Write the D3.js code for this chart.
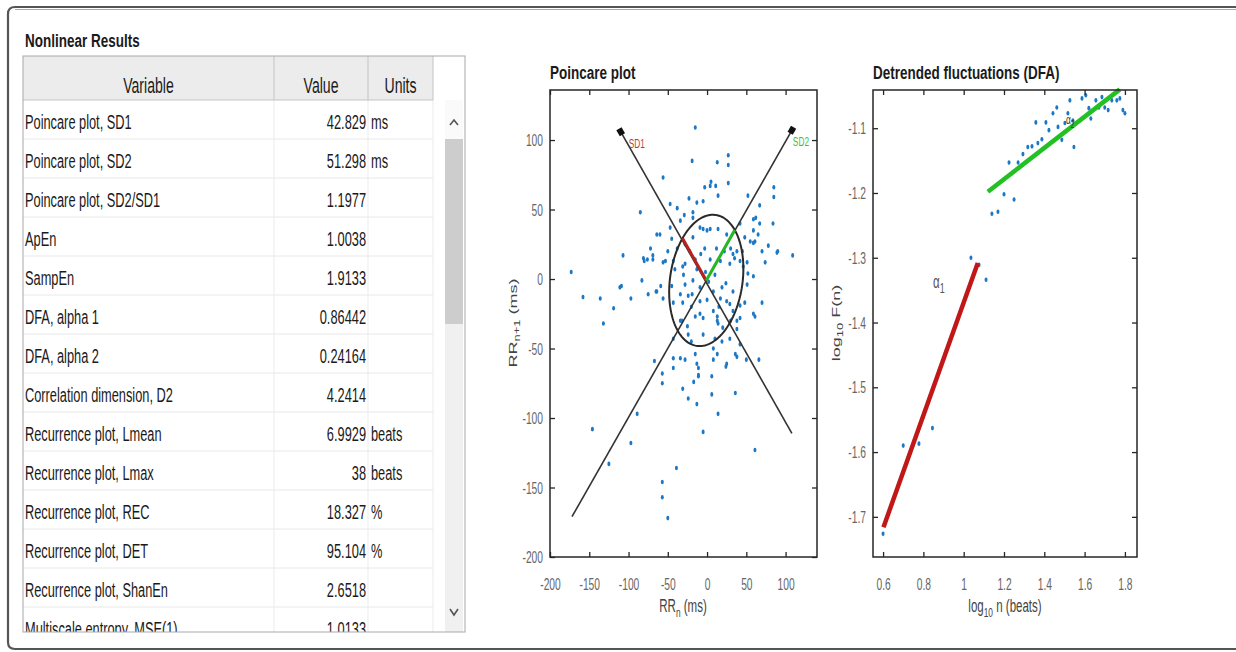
<!DOCTYPE html>
<html>
<head>
<meta charset="utf-8">
<script src="https://cdn.jsdelivr.net/npm/d3@7"></script>
<style>
html, body { margin: 0; padding: 0; background: #fff; overflow: hidden; }
svg { display: block; font-family: "Liberation Sans", Arial, sans-serif; }
</style>
</head>
<body>
<div id="root"></div>
<script>
const width = 1236;
const height = 652;

// table content
const variables = ['Poincare plot, SD1', 'Poincare plot, SD2', 'Poincare plot, SD2/SD1', 'ApEn', 'SampEn',
    'DFA, alpha 1', 'DFA, alpha 2', 'Correlation dimension, D2', 'Recurrence plot, Lmean',
    'Recurrence plot, Lmax', 'Recurrence plot, REC', 'Recurrence plot, DET', 'Recurrence plot, ShanEn',
    'Multiscale entropy, MSE(1)'];
const values = ['42.829', '51.298', '1.1977', '1.0038', '1.9133', '0.86442', '0.24164', '4.2414',
    '6.9929', '38', '18.327', '95.104', '2.6518', '1.0133'];
const units = ['ms', 'ms', '', '', '', '', '', '', 'beats', 'beats', '%', '%', '', ''];
const headers = ['Variable', 'Value', 'Units'];

// poincare plot (ms)
const SD1 = 42.829;
const SD2 = 51.298;
const poincareCenter = [-1, -1];
const poincareTicks = [-200, -150, -100, -50, 0, 50, 100];
const sd1Line = [[108, -111], [-110, 106]];
const sd2Line = [[-172, -171], [108, 107]];
const rrPoints = [
    [-15, 109], [-19, 85], [13, 84], [27, 89], [27, 82], [-56, 73], [-3, 66], [5, 70], [11, 67], [27, 69],
    [85, 66], [85, 59], [14, 60], [-23, 58], [-5, 56], [-13, 55], [52, 60], [-85, 48], [-47, 54], [-38, 51],
    [-29, 46], [-18, 48], [-18, 44], [62, 44], [67, 40], [84, 40], [59, 35], [-34, 42], [-60, 32], [-47, 37],
    [-9, 37], [0, 35], [48, 30], [59, 26], [65, 32], [90, 20], [109, 17], [-107, 17], [-81, 15], [-69, 17],
    [-173, 5], [-158, -13], [-136, -14], [-132, -32], [-119, -21], [-109, -5], [-97, -14], [-83, -1], [-80, 13],
    [-75, -11], [-65, -9], [-59, -5], [-56, -14], [-69, 14], [-53, 13], [-43, 13], [-31, 9], [-28, -4],
    [-31, -17], [-43, -17], [-19, -11], [-9, -16], [8, -9], [17, -14], [29, -18], [33, -23], [42, -19],
    [48, -17], [51, -4], [52, 4], [59, 2], [51, 12], [74, 12], [89, 19], [70, -17], [61, -27], [42, -28],
    [38, -30], [13, -27], [14, -32], [8, -23], [-9, -25], [-15, -27], [-5, -28], [-25, -34], [-32, -30],
    [-43, -43], [-43, -57], [-67, -59], [-57, -68], [-57, -75], [-28, -58], [-15, -54], [-13, -61], [-11, -64],
    [-11, -70], [-17, -74], [-31, -79], [-24, -86], [-13, -90], [6, -83], [14, -97], [36, -82], [-5, -110],
    [24, -63], [8, -58], [10, -43], [19, -45], [29, -43], [38, -56], [50, -58], [66, -58], [38, -36],
    [-89, -97], [-146, -108], [-97, -118], [61, -123], [-125, -133], [-39, -136], [-57, -146], [-57, -157],
    [-50, -172], [4, 67], [67, 53], [59, 43], [42, 40], [-64, 32], [-45, 29], [-18, 30], [-5, 36], [4, 36],
    [14, 36], [25, 32], [55, 27], [61, 27], [-76, 14], [-56, 12], [-41, 7], [-28, 11], [-13, 7], [4, 14],
    [17, 13], [29, 11], [42, 13], [46, 9], [-111, -6], [-64, -9], [-34, -11], [-24, -12], [-18, -1], [-9, -6],
    [19, -6], [33, -9], [25, -16], [59, -25], [13, -30], [-34, -30], [-24, -40], [8, -50], [13, -54],
    [25, -61], [36, -54], [42, -47], [-34, -57], [-43, -64], [-11, -69], [6, -70], [33, 18], [35, 15],
    [38, 20], [30, 22], [22, 20], [-3, 22], [-8, 18], [2, -2], [-2, 5], [10, 3], [-22, 20], [-28, 25],
    [-38, 22], [-50, 20], [-72, 22], [70, 20], [78, 24], [-15, 14], [12, 22], [45, 20], [-5, -40],
    [-20, -45], [20, -35], [30, -30], [0, -15], [-45, -5], [-20, -20], [15, -20], [24, -3], [-30, 3]
];

// DFA (log10 n, log10 F(n))
const dfaXTicks = [0.6, 0.8, 1, 1.2, 1.4, 1.6, 1.8];
const dfaYTicks = [-1.7, -1.6, -1.5, -1.4, -1.3, -1.2, -1.1];
const dfaPoints = [
    [0.6, -1.726], [0.7, -1.59], [0.778, -1.587], [0.845, -1.563], [1.036, -1.30], [1.076, -1.311],
    [1.111, -1.334], [1.14, -1.232], [1.17, -1.229], [1.2, -1.202], [1.25, -1.21], [1.225, -1.153],
    [1.27, -1.153], [1.294, -1.14], [1.318, -1.129], [1.339, -1.128], [1.368, -1.123], [1.388, -1.117],
    [1.358, -1.091], [1.408, -1.091], [1.423, -1.103], [1.443, -1.077], [1.462, -1.068], [1.468, -1.098],
    [1.487, -1.118], [1.502, -1.092], [1.517, -1.077], [1.527, -1.057], [1.547, -1.129], [1.542, -1.088],
    [1.587, -1.054], [1.606, -1.049], [1.621, -1.069], [1.631, -1.085], [1.656, -1.057], [1.671, -1.068],
    [1.686, -1.052], [1.7, -1.068], [1.717, -1.072], [1.735, -1.057], [1.76, -1.057], [1.775, -1.054],
    [1.79, -1.072], [1.8, -1.077]
];
const alpha1Fit = [[0.602, -1.716], [1.07, -1.308]];
const alpha2Fit = [[1.12, -1.198], [1.775, -1.04]];

const SX = 0.64; // text looks squeezed sideways in the screenshot

const svg = d3.select('#root')
    .append('svg')
    .attr('width', width)
    .attr('height', height);

// writes text squeezed horizontally
const txt = (parent, x, y, s, o = {}) => parent.append('text')
    .attr('transform', `translate(${x},${y}) scale(${o.sx || SX},1)`)
    .attr('text-anchor', o.anchor || 'start')
    .attr('font-size', o.size || 20)
    .attr('font-weight', o.weight || 'normal')
    .attr('fill', o.fill || '#1a1a1a')
    .text(s);

// panel frame
svg.append('path')
    .attr('d', 'M1236,7 L15,7 Q8,7 8,14 L8,642 Q8,649 15,649 L1236,649')
    .attr('fill', 'none')
    .attr('stroke', '#555')
    .attr('stroke-width', 2.2);
svg.append('line')
    .attr('x1', 15).attr('x2', width).attr('y1', 9.5).attr('y2', 9.5)
    .attr('stroke', '#aaa').attr('stroke-width', 1);

txt(svg, 25, 47, 'Nonlinear Results', {size: 19, weight: 'bold', sx: 0.71});

// ---------- table ----------
const T = {x: 23, y: 56, right: 465, bottom: 632, head: 44, row: 39};
const cols = [23, 274, 368, 433];
const table = svg.append('g');

table.append('defs').append('clipPath').attr('id', 'tclip')
    .append('rect').attr('x', T.x).attr('y', T.y).attr('width', T.right - T.x).attr('height', T.bottom - T.y);

table.append('rect')
    .attr('x', T.x).attr('y', T.y).attr('width', cols[3] - T.x).attr('height', T.head)
    .attr('fill', '#ececec');

const body = table.append('g').attr('clip-path', 'url(#tclip)');
const rows = body.selectAll('g.row')
    .data(variables.map((v, i) => ({v, val: values[i], u: units[i], i})))
    .join('g')
    .attr('class', 'row')
    .attr('transform', d => `translate(0,${T.y + T.head + d.i * T.row})`);

rows.append('line')
    .attr('x1', T.x).attr('x2', cols[3]).attr('y1', T.row).attr('y2', T.row)
    .attr('stroke', '#e8e8e8');
rows.each(function (d) {
    const g = d3.select(this);
    txt(g, 25, 29, d.v);
    txt(g, 366, 29, d.val, {anchor: 'end'});
    if (d.u) txt(g, 371, 29, d.u);
});

// column separators
cols.slice(1).forEach(c => {
    table.append('line').attr('x1', c).attr('x2', c).attr('y1', T.y).attr('y2', T.y + T.head)
        .attr('stroke', '#c4c4c4');
    table.append('line').attr('x1', c).attr('x2', c).attr('y1', T.y + T.head).attr('y2', T.bottom)
        .attr('stroke', '#ebebeb');
});
table.append('line').attr('x1', T.x).attr('x2', cols[3]).attr('y1', T.y + T.head).attr('y2', T.y + T.head)
    .attr('stroke', '#c4c4c4');

headers.forEach((h, i) => {
    txt(table, (cols[i] + cols[i + 1]) / 2, 93, h, {anchor: 'middle', size: 22});
});

// scrollbar
table.append('rect').attr('x', 445).attr('y', 100).attr('width', 18).attr('height', T.bottom - 100)
    .attr('fill', '#f0f0f0');
table.append('rect').attr('x', 445).attr('y', 100).attr('width', 18).attr('height', 39)
    .attr('fill', '#fafafa');
table.append('rect').attr('x', 445).attr('y', 139).attr('width', 18).attr('height', 185)
    .attr('fill', '#cdcdcd');
table.append('path').attr('d', 'M450,125 L454,120 L458,125')
    .attr('fill', 'none').attr('stroke', '#555').attr('stroke-width', 1.6);
table.append('path').attr('d', 'M450,609 L454,615 L458,609')
    .attr('fill', 'none').attr('stroke', '#555').attr('stroke-width', 1.6);

table.append('rect')
    .attr('x', T.x).attr('y', T.y).attr('width', T.right - T.x).attr('height', T.bottom - T.y)
    .attr('fill', 'none').attr('stroke', '#a8a8a8');

// ---------- axes helper ----------
const drawAxes = (g, x, y, xt, yt, fmt) => {
    const [x0, x1] = x.range();
    const [y0, y1] = y.range();
    const bottom = g.append('g').attr('transform', `translate(0,${y0})`)
        .call(d3.axisBottom(x).tickValues(xt).tickSizeInner(-5).tickSizeOuter(0).tickFormat(fmt));
    g.append('g').attr('transform', `translate(0,${y1})`)
        .call(d3.axisTop(x).tickValues(xt).tickSizeInner(-5).tickSizeOuter(0).tickFormat(''));
    const left = g.append('g').attr('transform', `translate(${x0},0)`)
        .call(d3.axisLeft(y).tickValues(yt).tickSizeInner(-5).tickSizeOuter(0).tickFormat(fmt));
    g.append('g').attr('transform', `translate(${x1},0)`)
        .call(d3.axisRight(y).tickValues(yt).tickSizeInner(-5).tickSizeOuter(0).tickFormat(''));
    g.selectAll('.domain').remove();
    g.selectAll('.tick line').attr('stroke', '#262626').attr('stroke-width', 1.3);
    g.selectAll('g').attr('font-family', null).attr('font-size', 16);
    bottom.selectAll('text')
        .attr('x', null).attr('y', null).attr('dy', null)
        .attr('transform', `translate(0,33) scale(${SX},1)`)
        .attr('fill', '#666');
    left.selectAll('text')
        .attr('x', null).attr('y', null).attr('dy', null)
        .attr('transform', `translate(-7,5.5) scale(${SX},1)`)
        .attr('fill', '#666');
    g.append('rect')
        .attr('x', x0).attr('y', y1).attr('width', x1 - x0).attr('height', y0 - y1)
        .attr('fill', 'none').attr('stroke', '#262626').attr('stroke-width', 1.5);
};
const fmt = d => String(d);

// ---------- Poincare plot ----------
const px = d3.scaleLinear([-200, 140], [550, 817]);
const py = d3.scaleLinear([-200, 136], [557, 90]);
const pg = svg.append('g');
const pLine = d3.line().x(d => px(d[0])).y(d => py(d[1]));

pg.selectAll('ellipse.pt')
    .data(rrPoints)
    .join('ellipse')
    .attr('class', 'pt')
    .attr('cx', d => px(d[0])).attr('cy', d => py(d[1]))
    .attr('rx', 1.5).attr('ry', 2.3)
    .attr('fill', '#1c78c4');

const u1 = [-Math.SQRT1_2, Math.SQRT1_2];
const u2 = [Math.SQRT1_2, Math.SQRT1_2];
const [cx0, cy0] = poincareCenter;
const ellipsePts = d3.range(0, 2 * Math.PI + 0.01, Math.PI / 60).map(t => [
    cx0 + SD2 * Math.cos(t) * u2[0] + SD1 * Math.sin(t) * u1[0],
    cy0 + SD2 * Math.cos(t) * u2[1] + SD1 * Math.sin(t) * u1[1]
]);

[sd1Line, sd2Line].forEach(l => {
    pg.append('path').attr('d', pLine(l)).attr('fill', 'none')
        .attr('stroke', '#333').attr('stroke-width', 1.6);
    const [a, b] = l;
    const ang = Math.atan2(py(b[1]) - py(a[1]), px(b[0]) - px(a[0])) * 180 / Math.PI;
    pg.append('rect')
        .attr('x', -3.5).attr('y', -3).attr('width', 7).attr('height', 6)
        .attr('transform', `translate(${px(b[0])},${py(b[1])}) rotate(${ang})`)
        .attr('fill', '#111');
});
pg.append('path').attr('d', pLine(ellipsePts)).attr('fill', 'none')
    .attr('stroke', '#2a2a2a').attr('stroke-width', 2);
pg.append('path')
    .attr('d', pLine([poincareCenter, [cx0 + SD1 * u1[0], cy0 + SD1 * u1[1]]]))
    .attr('stroke', '#b8221e').attr('stroke-width', 3);
pg.append('path')
    .attr('d', pLine([poincareCenter, [cx0 + SD2 * u2[0], cy0 + SD2 * u2[1]]]))
    .attr('stroke', '#25b825').attr('stroke-width', 3);

txt(pg, px(sd1Line[1][0]) + 8, py(sd1Line[1][1]) + 16, 'SD1', {size: 13, fill: '#c0393b'});
txt(pg, px(sd2Line[1][0]) + 1, py(sd2Line[1][1]) + 16, 'SD2', {size: 13, fill: '#3bbf3b'});

drawAxes(pg, px, py, poincareTicks, poincareTicks, fmt);

txt(svg, 550, 79, 'Poincare plot', {size: 19, weight: 'bold', sx: 0.71});

const pxl = svg.append('text')
    .attr('transform', `translate(683,612) scale(${SX},1)`)
    .attr('text-anchor', 'middle').attr('font-size', 18).attr('fill', '#444');
pxl.append('tspan').text('RR');
pxl.append('tspan').attr('font-size', 13).attr('dy', 5).text('n');
pxl.append('tspan').attr('dy', -5).text(' (ms)');

const pyl = svg.append('text')
    .attr('transform', 'translate(517,323) rotate(-90) scale(1,0.65)')
    .attr('text-anchor', 'middle').attr('font-size', 18).attr('fill', '#444');
pyl.append('tspan').text('RR');
pyl.append('tspan').attr('font-size', 13).attr('dy', 5).text('n+1');
pyl.append('tspan').attr('dy', -5).text(' (ms)');

// ---------- DFA ----------
const dx = d3.scaleLinear([0.55, 1.86], [873, 1137]);
const dy = d3.scaleLinear([-1.762, -1.041], [557, 90]);
const dg = svg.append('g');
const dLine = d3.line().x(d => dx(d[0])).y(d => dy(d[1]));

dg.selectAll('ellipse.pt')
    .data(dfaPoints)
    .join('ellipse')
    .attr('class', 'pt')
    .attr('cx', d => dx(d[0])).attr('cy', d => dy(d[1]))
    .attr('rx', 1.5).attr('ry', 2.3)
    .attr('fill', '#1c78c4');

dg.append('path').attr('d', dLine(alpha1Fit)).attr('stroke', '#c01818').attr('stroke-width', 4.5);
dg.append('path').attr('d', dLine(alpha2Fit)).attr('stroke', '#22c022').attr('stroke-width', 4.5);

const a1 = dg.append('text')
    .attr('transform', `translate(933,288) scale(${SX},1)`)
    .attr('font-size', 18).attr('fill', '#555');
a1.append('tspan').text('α');
a1.append('tspan').attr('font-size', 14).attr('dy', 5).text('1');

const a2 = dg.append('text')
    .attr('transform', `translate(1066,124) scale(${SX},1)`)
    .attr('font-size', 13).attr('fill', '#333');
a2.append('tspan').text('α');
a2.append('tspan').attr('font-size', 10).attr('dy', 4).text('2');

drawAxes(dg, dx, dy, dfaXTicks, dfaYTicks, fmt);

txt(svg, 873, 79, 'Detrended fluctuations (DFA)', {size: 19, weight: 'bold', sx: 0.71});

const dxl = svg.append('text')
    .attr('transform', `translate(1005,612) scale(${SX},1)`)
    .attr('text-anchor', 'middle').attr('font-size', 18).attr('fill', '#444');
dxl.append('tspan').text('log');
dxl.append('tspan').attr('font-size', 13).attr('dy', 5).text('10');
dxl.append('tspan').attr('dy', -5).text(' n (beats)');

const dyl = svg.append('text')
    .attr('transform', 'translate(840,323) rotate(-90) scale(1,0.65)')
    .attr('text-anchor', 'middle').attr('font-size', 18).attr('fill', '#444');
dyl.append('tspan').text('log');
dyl.append('tspan').attr('font-size', 13).attr('dy', 5).text('10');
dyl.append('tspan').attr('dy', -5).text(' F(n)');
</script>
</body>
</html>
